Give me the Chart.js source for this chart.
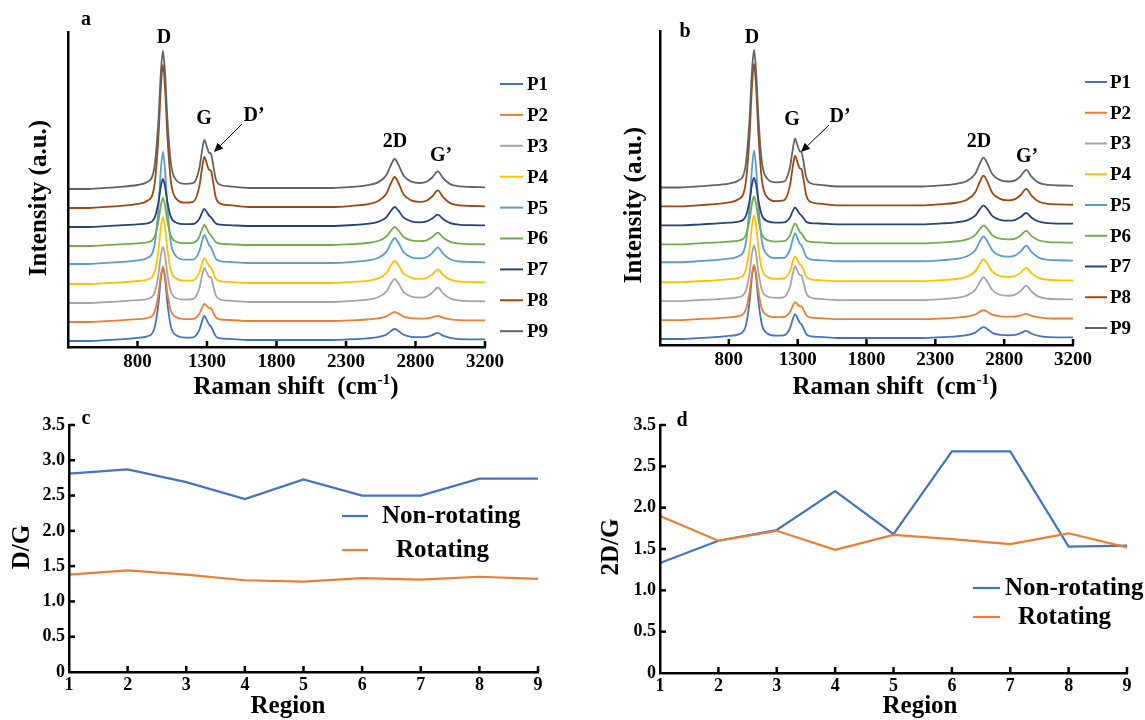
<!DOCTYPE html>
<html><head><meta charset="utf-8">
<script src="https://cdn.jsdelivr.net/npm/chart.js@4.4.0/dist/chart.umd.min.js"></script>
<style>
html,body{margin:0;padding:0;background:#fff;}
#wrap{position:relative;width:1145px;height:720px;overflow:hidden;background:#fff;}
canvas{position:absolute;left:0;top:0;}
</style>
</head><body>
<div id="wrap">
<canvas id="ca" width="1145" height="720"></canvas>
<canvas id="cb" width="1145" height="720"></canvas>
<canvas id="cc" width="1145" height="720"></canvas>
<canvas id="cd" width="1145" height="720"></canvas>
</div>
<script>
// ---------------- DATA ----------------
const ramanShift = [300,450,600,700,800,870,920,950,968,983,998,1015,1040,1080,1140,1200,1245,1265,1281,1300,1315,1328,1342,1362,1395,1460,1600,1900,2200,2350,2450,2530,2590,2625,2650,2675,2715,2770,2830,2880,2920,2960,3000,3050,3120,3200,3300];
const ramanTickLabels = ['', '800', '1300', '1800', '2300', '2800', '3200'];
const seriesNames = ['P1','P2','P3','P4','P5','P6','P7','P8','P9'];
const P1 = [6,6,7.2,7.9,9.1,10.7,17.8,42.6,68.5,80,68.5,44,20.6,11.6,9.4,9.7,17.1,26.1,31,26.6,22.3,20.8,16.9,11,8.7,8.1,7,7,7,7.8,8.6,9.9,12.4,16.1,18,16.3,12.2,10.2,9.8,10.2,11.9,14.2,11.3,9.1,7.9,7.7,7.6];
const P2 = [25,25,26.2,26.8,27.8,29,34.2,52.4,71.5,80,71.5,53.5,36.3,29.7,27.9,28.1,33.3,39.5,43,40.6,39,38.8,35.5,29.9,27.5,27,26,26,26,26.7,27.5,28.6,30.6,33.5,35,33.6,30.4,28.8,28.4,28.6,29.7,31.2,29.2,27.7,26.8,26.6,26.6];
const P3 = [44,44,45.2,45.8,46.8,48,53.3,71.9,91.4,100,91.4,73,55.5,48.7,47.3,48.1,58.8,71.8,79,73.9,70.2,69.6,63,52,47.5,46.3,45,45,45,46.1,47.3,49.7,55.3,63.7,68,64.1,54.9,50.4,49.4,50.5,54.2,59.5,53.4,48.5,46.4,45.9,45.7];
const P4 = [63,63,64.2,64.9,66,67.4,73.8,96.2,119.6,130,119.6,97.5,76.4,68.3,66.3,66.7,74.5,83.9,89,84.7,81,79.8,75.4,68.6,65.9,65.1,64,64,64,65.1,66.2,68.6,73.9,81.9,86,82.2,73.5,69.2,68.2,69.2,72.6,77.5,71.8,67.3,65.3,64.9,64.7];
const P5 = [83,83,84.3,85.2,86.7,89.1,100,137.8,177.4,195,177.4,140,104.3,90.5,87.3,87.4,96,106.2,112,106.8,101.7,99.8,95.3,88.6,85.9,85.1,84,84,84,85.1,86.4,89,95.1,104.3,109,104.7,94.7,89.7,88.6,89.8,93.9,99.6,93.1,87.7,85.5,85,84.7];
const P6 = [101,101,102.1,102.8,103.7,104.7,109.3,125.1,141.6,149,141.6,126,111.1,105.3,103.8,104.2,110.3,117.9,122,117.9,113.7,111.9,109,105,103.4,102.9,102,102,102,102.9,104,106,110.3,116.7,120,117,110,106.6,105.9,106.7,109.9,114.4,109.2,105.1,103.3,102.9,102.7];
const P7 = [120,120,121.1,121.8,122.7,123.7,128.3,144.1,160.6,168,160.6,145,130.1,124.3,122.8,123,128.2,134.6,138,134.7,131.4,129.9,127.4,123.7,122.3,121.9,121,121,121,122,123.1,125.1,129.7,136.5,140,136.8,129.3,125.6,124.7,125.6,128.4,132.4,127.7,123.9,122.2,121.8,121.7];
const P8 = [139,139,140.4,141.3,143.1,146.2,160.2,208.7,259.4,282,259.4,211.5,165.7,148.1,144.3,145.1,160.6,179.4,190,182.6,177.2,176.4,166.6,150.2,143.4,141.8,140,140,140,141.3,142.7,145.8,153.2,164.3,170,164.7,152.5,146.6,145.1,146.3,150.5,156.7,149.7,143.9,141.6,141,140.7];
const P9 = [158,158,159.4,160.3,162,165,178.5,225.3,274.2,296,274.2,228,183.8,166.8,163.2,163.8,178.8,196.8,207,199.7,194.3,193.4,184.2,168.6,162.3,160.7,159,159,159,160.2,161.7,164.6,171.8,182.5,188,182.9,171.2,165.4,164,165.2,169.5,175.7,168.7,162.9,160.6,160,159.7];

const regions = ['1','2','3','4','5','6','7','8','9'];
const dgNonRotating = [2.81,2.87,2.69,2.45,2.73,2.50,2.50,2.74,2.74];
const dgRotating    = [1.38,1.44,1.38,1.30,1.28,1.33,1.31,1.35,1.32];
const twoDgNonRotating = [1.33,1.60,1.73,2.20,1.68,2.68,2.68,1.53,1.54];
const twoDgRotating    = [1.90,1.60,1.72,1.49,1.67,1.62,1.56,1.69,1.52];
const dgTickLabels    = ['0','0.5','1.0','1.5','2.0','2.5','3.0','3.5'];
const twoDgTickLabels = ['0','0.5','1.0','1.5','2.0','2.5','3.5'];
const ratioSeriesNames = ['Non-rotating','Rotating'];

// ---------------- STYLE ----------------
const FONT = '"Liberation Serif","Times New Roman",serif';
const seriesColors = ['#4472C4','#ED7D31','#A5A5A5','#FFC000','#5B9BD5','#70AD47','#264478','#9E480E','#636363'];
const ratioColors = ['#4472C4','#ED7D31'];
const spectra = [P1,P2,P3,P4,P5,P6,P7,P8,P9];

function spectrumDatasets(){
  return spectra.map((ys,i)=>({
    label: seriesNames[i],
    data: ramanShift.map((x,j)=>({x:x, y:ys[j]})),
    borderColor: seriesColors[i], backgroundColor: seriesColors[i],
    borderWidth: 1.8, pointRadius: 0, fill:false,
    cubicInterpolationMode:'monotone',
    order: spectra.length-1-i
  }));
}

function drawRich(ctx, it){
  ctx.save();
  ctx.translate(it.x, it.y);
  if (it.rot) ctx.rotate(it.rot);
  ctx.fillStyle = '#000';
  ctx.textBaseline = 'middle';
  ctx.textAlign = 'left';
  const parts = it.parts || [{t: it.text}];
  let total = 0;
  parts.forEach(p=>{ ctx.font = 'bold '+(p.sup? it.size*0.62 : it.size)+'px '+FONT; p.w = ctx.measureText(p.t).width; total += p.w; });
  let x = it.align==='left' ? 0 : -total/2;
  parts.forEach(p=>{ ctx.font = 'bold '+(p.sup? it.size*0.62 : it.size)+'px '+FONT; ctx.fillText(p.t, x, p.sup ? -it.size*0.33 : 0); x += p.w; });
  ctx.restore();
}

function makeTextPlugin(items, arrows){
  return { id:'texts', afterDraw(chart){
    const ctx = chart.ctx;
    items.forEach(it=>drawRich(ctx, it));
    (arrows||[]).forEach(a=>{
      ctx.save(); ctx.strokeStyle='#000'; ctx.fillStyle='#000'; ctx.lineWidth=1;
      const ang = Math.atan2(a.y2-a.y1, a.x2-a.x1);
      const hl = 9, hw = 4;
      const bx = a.x2 - hl*Math.cos(ang), by = a.y2 - hl*Math.sin(ang);
      ctx.beginPath(); ctx.moveTo(a.x1,a.y1); ctx.lineTo(bx,by); ctx.stroke();
      ctx.beginPath(); ctx.moveTo(a.x2,a.y2);
      ctx.lineTo(bx + hw*Math.sin(ang), by - hw*Math.cos(ang));
      ctx.lineTo(bx - hw*Math.sin(ang), by + hw*Math.cos(ang));
      ctx.closePath(); ctx.fill();
      ctx.restore();
    });
  }};
}

function makeTicksPlugin(cfg){
  return { id:'inwardTicks', afterDraw(chart){
    const ctx = chart.ctx, ca = chart.chartArea;
    ctx.save(); ctx.strokeStyle='#000'; ctx.lineWidth=2.5;
    if (cfg.x){ const s = chart.scales.x;
      s.ticks.forEach((t,i)=>{ const px = s.getPixelForTick(i); if (Math.abs(px-ca.left)<2) return;
        ctx.beginPath(); ctx.moveTo(px, ca.bottom); ctx.lineTo(px, ca.bottom-cfg.len); ctx.stroke(); }); }
    if (cfg.y){ const s = chart.scales.y;
      s.ticks.forEach((t,i)=>{ const py = s.getPixelForTick(i); if (Math.abs(py-ca.bottom)<2) return;
        ctx.beginPath(); ctx.moveTo(ca.left, py); ctx.lineTo(ca.left+cfg.len, py); ctx.stroke(); }); }
    ctx.restore();
  }};
}

function makeLegendPlugin(pos, size, lw){
  return { id:'customLegend', afterDraw(chart){
    const ctx = chart.ctx;
    chart.data.datasets.forEach((ds,i)=>{
      const p = pos[i];
      ctx.save();
      ctx.strokeStyle = ds.borderColor; ctx.lineWidth = lw;
      ctx.beginPath(); ctx.moveTo(p.lx0, p.y); ctx.lineTo(p.lx1, p.y); ctx.stroke();
      ctx.fillStyle='#000'; ctx.font='bold '+size+'px '+FONT; ctx.textBaseline='middle'; ctx.textAlign='left';
      ctx.fillText(ds.label, p.tx, p.y+1);
      ctx.restore();
    });
  }};
}

const axisBorder = {display:true, color:'#000', width:2.5, z:1};
const noGrid = {display:false, drawTicks:false};

function spectrumChart(id, area, legendPos, texts, arrows){
  return new Chart(document.getElementById(id), {
    type:'line',
    data:{ datasets: spectrumDatasets() },
    options:{
      responsive:false, animation:false, devicePixelRatio:1,
      layout:{ padding:{ left:0, top:area.top, right:1145-area.right, bottom:0 } },
      plugins:{ legend:{display:false}, tooltip:{enabled:false} },
      scales:{
        x:{ type:'linear', min:300, max:3300,
            ticks:{ stepSize:500, autoSkip:false, maxRotation:0, padding:4, color:'#000',
                    font:{family:FONT, size:19, weight:'bold'},
                    callback:(v,i)=>ramanTickLabels[i] },
            grid:noGrid, border:axisBorder,
            afterFit:(s)=>{ s.height = 720-area.bottom; } },
        y:{ type:'linear', min:0, max:315,
            ticks:{ display:false }, grid:noGrid, border:axisBorder,
            afterFit:(s)=>{ s.width = area.left; } }
      }
    },
    plugins:[ makeTicksPlugin({x:true, len:6}), makeLegendPlugin(legendPos, 19, 2), makeTextPlugin(texts, arrows) ]
  });
}

function legendColumn(lx0, lx1, tx, y0, dy){
  return seriesNames.map((n,i)=>({lx0:lx0, lx1:lx1, tx:tx, y:y0+dy*i}));
}

const ramanTitle = (x,y)=>({x:x, y:y, size:25, parts:[{t:'Raman shift  (cm'},{t:'-1',sup:true},{t:')'}]});

spectrumChart('ca', {left:68, right:485, top:32, bottom:347},
  legendColumn(500, 523, 527, 84, 30.9),
  [ {text:'a', x:86, y:20, size:20},
    {text:'D', x:164, y:38, size:20},
    {text:'G', x:204, y:119, size:20},
    {text:'D\u2019', x:254, y:116, size:20},
    {text:'2D', x:395, y:142, size:20},
    {text:'G\u2019', x:441, y:156, size:20},
    {text:'Intensity (a.u.)', x:40, y:198, size:25, rot:-Math.PI/2},
    ramanTitle(296, 388) ],
  [ {x1:242, y1:124, x2:214, y2:152} ]);

spectrumChart('cb', {left:660, right:1073, top:31, bottom:345},
  legendColumn(1085, 1107, 1110, 82, 30.75),
  [ {text:'b', x:685, y:32, size:20},
    {text:'D', x:752, y:38, size:20},
    {text:'G', x:792, y:120, size:20},
    {text:'D\u2019', x:840, y:117, size:20},
    {text:'2D', x:979, y:142, size:20},
    {text:'G\u2019', x:1027, y:157, size:20},
    {text:'Intensity (a.u.)', x:635, y:205, size:25, rot:-Math.PI/2},
    ramanTitle(895, 388) ],
  [ {x1:829, y1:125, x2:801, y2:152} ]);

function ratioChart(id, area, nonRot, rot, yMax, tickLabels, legendPos, texts){
  return new Chart(document.getElementById(id), {
    type:'line',
    data:{ labels: regions, datasets:[
      { label: ratioSeriesNames[0], data: nonRot, borderColor: ratioColors[0], backgroundColor: ratioColors[0], borderWidth:2.2, pointRadius:0, tension:0, order:1 },
      { label: ratioSeriesNames[1], data: rot, borderColor: ratioColors[1], backgroundColor: ratioColors[1], borderWidth:2.2, pointRadius:0, tension:0, order:0 }
    ]},
    options:{
      responsive:false, animation:false, devicePixelRatio:1,
      layout:{ padding:{ left:0, top:area.top, right:1145-area.right, bottom:0 } },
      plugins:{ legend:{display:false}, tooltip:{enabled:false} },
      scales:{
        x:{ type:'category', offset:false,
            ticks:{ autoSkip:false, maxRotation:0, padding:3, color:'#000', font:{family:FONT, size:18, weight:'bold'} },
            grid:noGrid, border:axisBorder,
            afterFit:(s)=>{ s.height = 720-area.bottom; } },
        y:{ type:'linear', min:0, max:yMax,
            ticks:{ stepSize:0.5, autoSkip:false, padding:4, color:'#000', font:{family:FONT, size:18, weight:'bold'},
                    callback:(v,i)=>tickLabels[i] },
            grid:noGrid, border:axisBorder,
            afterFit:(s)=>{ s.width = area.left; } }
      }
    },
    plugins:[ makeTicksPlugin({x:true, y:true, len:6}), makeLegendPlugin(legendPos, 25, 2.2), makeTextPlugin(texts, []) ]
  });
}

ratioChart('cc', {left:69, right:538, top:425, bottom:672}, dgNonRotating, dgRotating, 3.5, dgTickLabels,
  [ {lx0:342, lx1:368, tx:382, y:516}, {lx0:342, lx1:368, tx:396, y:550} ],
  [ {text:'c', x:86, y:419, size:20},
    {text:'D/G', x:23, y:547, size:25, rot:-Math.PI/2},
    {text:'Region', x:288, y:707, size:25} ]);

ratioChart('cd', {left:660, right:1127, top:425, bottom:673}, twoDgNonRotating, twoDgRotating, 3.0, twoDgTickLabels,
  [ {lx0:973, lx1:1000, tx:1005, y:588}, {lx0:973, lx1:1000, tx:1018, y:617} ],
  [ {text:'d', x:682, y:421, size:20},
    {text:'2D/G', x:612, y:547, size:25, rot:-Math.PI/2},
    {text:'Region', x:920, y:707, size:25} ]);
</script>
</body></html>
